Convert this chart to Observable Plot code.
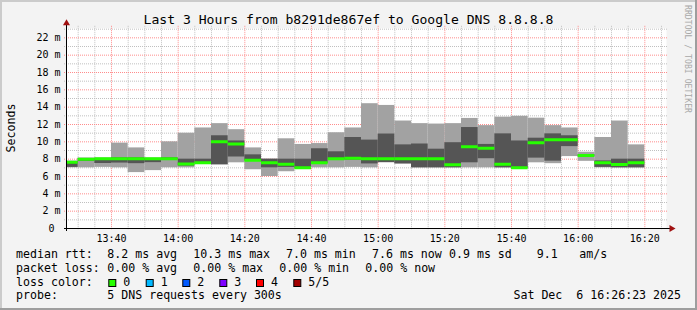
<!DOCTYPE html>
<html><head><meta charset="utf-8">
<script src="https://cdn.jsdelivr.net/npm/d3@7"></script>
<script src="https://cdn.jsdelivr.net/npm/@observablehq/plot@0.6"></script>
<style>
html,body{margin:0;padding:0;background:#f3f3f3;}
svg text{white-space:pre;}
</style></head><body><div id="chart"></div>
<script>
// ---- data (ms) : 5-minute buckets, 5 pings each (sorted) ----
const bucketStarts = ["13:25","13:30","13:35","13:40","13:45","13:50","13:55","14:00","14:05","14:10","14:15","14:20","14:25","14:30","14:35","14:40","14:45","14:50","14:55","15:00","15:05","15:10","15:15","15:20","15:25","15:30","15:35","15:40","15:45","15:50","15:55","16:00","16:05","16:10","16:15"];
const minRtt    = [7.0,7.0,7.05,7.0,6.45,6.68,7.0,7.0,7.5,7.35,7.58,6.78,6.0,6.55,6.95,7.0,7.0,7.05,7.0,7.6,7.45,7.0,7.0,7.0,7.0,7.0,7.0,6.95,7.58,7.48,8.3,7.75,7.0,7.0,7.0];
const lowRtt    = [7.05,7.75,7.5,7.55,7.48,7.6,7.95,7.2,7.5,7.35,8.25,7.8,7.0,7.05,6.95,7.5,7.9,7.9,7.45,7.6,7.45,7.0,7.0,7.0,7.58,8.05,7.0,6.95,8.12,7.77,9.45,8.3,7.05,7.0,7.0];
const medianRtt = [7.65,8.0,8.05,8.05,8.05,8.05,8.05,7.45,7.6,10.0,9.75,7.88,7.58,7.42,7.0,7.58,8.05,8.1,8.05,8.05,8.05,8.05,8.05,7.37,9.42,9.27,7.42,7.02,9.9,10.25,10.25,8.42,7.58,7.38,7.6];
const highRtt   = [7.75,8.1,8.1,8.15,8.15,8.1,8.15,8.0,8.0,10.7,10.1,8.5,8.0,8.0,8.0,9.2,8.85,10.5,10.2,10.9,9.65,9.75,9.15,9.9,11.65,9.7,10.92,10.1,10.42,10.92,10.7,8.5,7.8,8.0,8.0];
const maxRtt    = [7.75,8.1,8.1,9.85,9.3,8.1,10.0,11.0,11.6,12.1,11.4,9.3,8.0,10.35,9.7,9.8,11.05,11.6,14.4,14.2,12.4,12.1,12.05,12.1,12.7,11.87,12.85,12.95,12.73,11.87,11.6,8.8,10.5,12.4,9.65];

const xTickLabels = ["13:40","14:00","14:20","14:40","15:00","15:20","15:40","16:00","16:20"];
const yTickValues = [0,2,4,6,8,10,12,14,16,18,20,22];
const lossLabels = ["0","1","2","3","4","5/5"];
const lossColors = ["#26ff00","#00b8ff","#0059ff","#7e00ff","#ff0000","#a10000"];

const titleText = "Last 3 Hours from b8291de867ef to Google DNS 8.8.8.8";
const legendRow1 = [["median rtt:",16],["8.2 ms avg",107.3],["10.3 ms max",193.3],["7.0 ms min",286],["7.6 ms now",372],["0.9 ms sd",449],["9.1",536.7],["am/s",579.3]];
const legendRow2 = [["packet loss:",16],["0.00 % avg",107.3],["0.00 % max",193.3],["0.00 % min",279.3],["0.00 % now",365.3]];
const probeText = "5 DNS requests every 300s";
const dateText = "Sat Dec  6 16:26:23 2025";

// ---- build ----
const T = s => { const [h,m] = s.split(":").map(Number); return new Date(Date.UTC(2025,11,6,h,m)); };
const start = new Date(Date.UTC(2025,11,6,13,26,30));
const end = new Date(Date.UTC(2025,11,6,16,26,30));
const data = bucketStarts.map((s,i) => ({t0: T(s), t1: new Date(+T(s) + 300000),
  lo: minRtt[i], q2: lowRtt[i], med: medianRtt[i], q4: highRtt[i], hi: maxRtt[i]}));

const minorX = [], majorX = xTickLabels.map(T);
for (let t = +T("13:30"); t <= +T("16:25"); t += 300000) {
  if (!majorX.some(d => +d === t)) minorX.push(new Date(t));
}
const minorY = d3.range(1, 24, 2);
const majorY = yTickValues.filter(d => d > 0);

const FONT = "DejaVu Sans Mono";
const chart = Plot.plot({
  width: 697, height: 310,
  marginLeft: 66, marginRight: 31, marginTop: 27.8, marginBottom: 82,
  style: {background: "#f3f3f3", fontFamily: FONT, fontSize: "10px", color: "#000", overflow: "visible"},
  x: {type: "utc", domain: [start, end]},
  y: {domain: [0, 23.1]},
  marks: [
    Plot.frame({fill: "white", stroke: null}),
    Plot.ruleY(minorY, {stroke: "#c0c0c0", strokeDasharray: "1,1", insetLeft: -2, insetRight: -2}),
    Plot.ruleX(minorX, {stroke: "#c0c0c0", strokeDasharray: "1,1", insetTop: -2, insetBottom: -2}),
    Plot.ruleY(majorY, {stroke: "#ff8c8c", strokeDasharray: "1,1", insetLeft: -2, insetRight: -2}),
    Plot.ruleX(majorX, {stroke: "#ff8c8c", strokeDasharray: "1,1", insetTop: -2, insetBottom: -2}),
    Plot.rect(data, {x1: "t0", x2: "t1", y1: "lo", y2: "hi", fill: "#a2a2a2", clip: true}),
    Plot.rect(data, {x1: "t0", x2: "t1", y1: "q2", y2: "q4", fill: "#555555", clip: true}),
    Plot.ruleY(data, {y: "med", x1: "t0", x2: "t1", stroke: lossColors[0], strokeWidth: 3, clip: true}),
    Plot.ruleY([0], {stroke: "#000", insetLeft: -2, insetRight: -4}),
    Plot.ruleX([start], {stroke: "#000", insetTop: -4, insetBottom: -3}),
    Plot.dot([{x: end, y: 0}], {x: "x", y: "y", symbol: "triangle", r: 2.6, fill: "#a01010", stroke: null, rotate: 90, dx: 5}),
    Plot.dot([{x: start, y: 23.1}], {x: "x", y: "y", symbol: "triangle", r: 2.6, fill: "#a01010", stroke: null, dy: -5}),
    Plot.axisX(majorX, {tickSize: 0, tickPadding: 6, tickFormat: d3.utcFormat("%H:%M"), fontSize: 10, fontFamily: FONT}),
    Plot.axisY(yTickValues, {tickSize: 0, tickPadding: 6, tickFormat: d => d === 0 ? "0 " : d + " m", fontSize: 10, fontFamily: FONT})
  ]
});
document.getElementById("chart").appendChild(chart);

const svg = d3.select(chart);
// border shading
svg.append("rect").attr("x",0).attr("y",0).attr("width",697).attr("height",2).attr("fill","#cbcbcb");
svg.append("rect").attr("x",0).attr("y",0).attr("width",2).attr("height",310).attr("fill","#cbcbcb");
svg.append("rect").attr("x",0).attr("y",308).attr("width",697).attr("height",2).attr("fill","#9e9e9e");
svg.append("rect").attr("x",695).attr("y",0).attr("width",2).attr("height",310).attr("fill","#9e9e9e");

const txt = (x, y, s, size, extra = {}) => {
  const t = svg.append("text").attr("x", x).attr("y", y).attr("font-family", FONT)
    .attr("font-size", size).attr("fill", extra.fill || "#000")
    .attr("text-anchor", extra.anchor || "start").text(s);
  if (extra.transform) t.attr("transform", extra.transform);
  if (extra.length) t.attr("textLength", extra.length).attr("lengthAdjust", "spacingAndGlyphs");
  return t;
};
txt(348.5, 23.5, titleText, 13.1, {anchor: "middle"});
txt(0, 0, "Seconds", 11.6, {anchor: "middle", transform: "translate(14.5,128) rotate(-90)"});
txt(0, 0, "RRDTOOL / TOBI OETIKER", 8.2, {fill: "#a8a8a8", length: 108, transform: "translate(685,5) rotate(90)"});

legendRow1.forEach(([s, x]) => txt(x, 258.3, s, 11.6));
legendRow2.forEach(([s, x]) => txt(x, 271.9, s, 11.6));
txt(16, 285.6, "loss color:", 11.6);
const boxX = [108.3, 145.7, 182.3, 219.3, 256, 293.3];
lossLabels.forEach((s, i) => {
  svg.append("rect").attr("x", boxX[i] + 0.5).attr("y", 279.5).attr("width", 7).attr("height", 7)
    .attr("fill", lossColors[i]).attr("stroke", "#000").attr("stroke-width", 1);
  txt(boxX[i] + 15, 285.6, s, 11.6);
});
txt(16, 299.3, "probe:", 11.6);
txt(107.3, 299.3, probeText, 11.6);
txt(681, 299.3, dateText, 11.6, {anchor: "end"});
</script></body></html>
